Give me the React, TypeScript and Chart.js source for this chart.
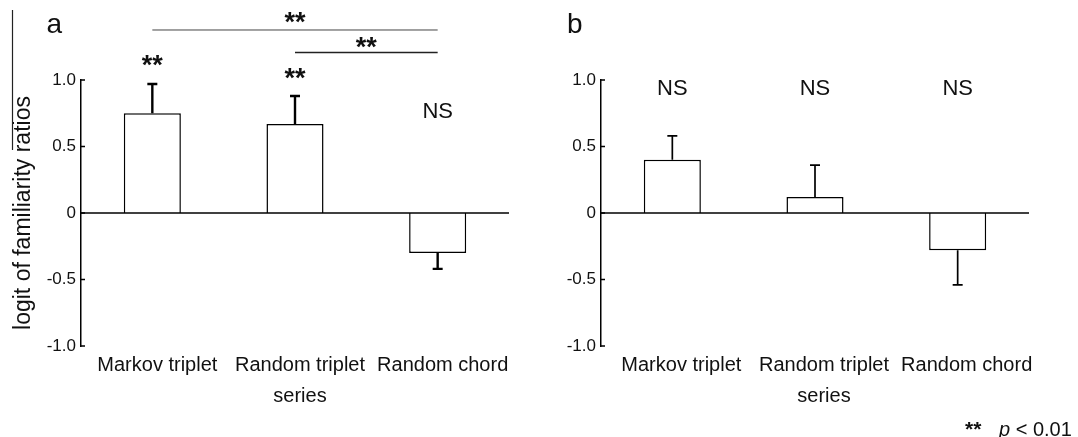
import React, { useEffect, useRef } from 'react';
import { Chart, registerables } from 'chart.js';

Chart.register(...registerables);

const FONT = '"Liberation Sans", Arial, Helvetica, sans-serif';
Chart.defaults.font.family = FONT;

// ---- data ----
const categories = [['Markov triplet'], ['Random triplet', 'series'], ['Random chord']];
const meansA = [0.75, 0.67, -0.30];
const errorsA = [0.22, 0.21, 0.12];
const meansB = [0.40, 0.12, -0.28];
const errorsB = [0.18, 0.24, 0.26];
const yTickValues = [-1, -0.5, 0, 0.5, 1];
const yTickLabels = ['-1.0', '-0.5', '0', '0.5', '1.0'];
const yTitle = 'logit of familiarity ratios';

// significance marks above each bar
const barMarksA = ['**', '**', 'NS'];
const barMarkLevelsA = [1.15, 1.05, 0.77];
const barMarksB = ['NS', 'NS', 'NS'];
const barMarkLevelsB = [0.95, 0.95, 0.95];

// brackets between categories (panel a)
const bracketPairsA = [[0, 2], [1, 2]];
const bracketLevelsA = [1.376, 1.207];
const bracketMarksA = ['**', '**'];
const bracketMarkLevelsA = [1.47, 1.283];

const panelLetters = ['a', 'b'];
const footnoteStars = '**';
const footnoteP = 'p';
const footnoteRest = ' < 0.01';

type PanelCfg = {
  letter: string;
  letterX: number;
  means: number[];
  errors: number[];
  marks: string[];
  markLevels: number[];
  brackets: number[][];
  bracketLevels: number[];
  bracketMarks: string[];
  bracketMarkLevels: number[];
  errWidth: number;
  axisWidth: number;
  padRight: number;
  labelOffset: number;
  showTitle: boolean;
  footnote: boolean;
  artifact: boolean;
};

const STAR_SIZE = 27;
const STAR_INK = 0.5;
const STAR_STYLE = 'bold ';

function drawInk(ctx: CanvasRenderingContext2D, text: string, x: number, cy: number, size: number, inkEm: number, align: CanvasTextAlign = 'center', style = '') {
  ctx.font = `${style}${size}px ${FONT}`;
  ctx.textAlign = align;
  ctx.textBaseline = 'alphabetic';
  ctx.fillText(text, x, cy + inkEm * size);
}

function makePlugin(cfg: PanelCfg) {
  return {
    id: 'panelDecor',
    afterDatasetsDraw(chart: any) {
      const ctx: CanvasRenderingContext2D = chart.ctx;
      const xs = chart.scales.x;
      const ys = chart.scales.y;
      const area = chart.chartArea;
      const meta = chart.getDatasetMeta(0);
      ctx.save();
      ctx.strokeStyle = '#000';
      ctx.fillStyle = '#111';

      // zero line
      const y0 = ys.getPixelForValue(0);
      ctx.lineWidth = 1.5;
      ctx.beginPath();
      ctx.moveTo(area.left, y0);
      ctx.lineTo(area.right, y0);
      ctx.stroke();

      // inward tick marks
      ctx.beginPath();
      ys.ticks.forEach((t: any) => {
        const py = ys.getPixelForValue(t.value);
        ctx.moveTo(area.left, py);
        ctx.lineTo(area.left + 4, py);
      });
      ctx.stroke();

      // one-sided error bars
      ctx.lineWidth = cfg.errWidth;
      cfg.means.forEach((m, i) => {
        const bx = meta.data[i].x;
        const end = m >= 0 ? m + cfg.errors[i] : m - cfg.errors[i];
        const p1 = ys.getPixelForValue(m);
        const p2 = ys.getPixelForValue(end);
        ctx.beginPath();
        ctx.moveTo(bx, p1);
        ctx.lineTo(bx, p2);
        ctx.moveTo(bx - 5, p2);
        ctx.lineTo(bx + 5, p2);
        ctx.stroke();
      });

      // marks above bars
      cfg.marks.forEach((t, i) => {
        const bx = meta.data[i].x;
        const cy = ys.getPixelForValue(cfg.markLevels[i]);
        if (t === 'NS') drawInk(ctx, t, bx, cy, 22, 0.358);
        else drawInk(ctx, t, bx, cy, STAR_SIZE, STAR_INK, 'center', STAR_STYLE);
      });

      // brackets
      cfg.brackets.forEach((pair, i) => {
        const xa = xs.getPixelForValue(pair[0]);
        const xb = xs.getPixelForValue(pair[1]);
        const py = ys.getPixelForValue(cfg.bracketLevels[i]);
        ctx.lineWidth = i === 0 ? 1 : 1.4;
        ctx.strokeStyle = i === 0 ? '#444' : '#222';
        ctx.beginPath();
        ctx.moveTo(xa, py);
        ctx.lineTo(xb, py);
        ctx.stroke();
        const cy = ys.getPixelForValue(cfg.bracketMarkLevels[i]);
        drawInk(ctx, cfg.bracketMarks[i], (xa + xb) / 2, cy, STAR_SIZE, STAR_INK, 'center', STAR_STYLE);
      });

      // panel letter
      ctx.font = `28px ${FONT}`;
      ctx.textAlign = 'left';
      ctx.textBaseline = 'alphabetic';
      ctx.fillText(cfg.letter, cfg.letterX, 33);

      // left border artifact
      if (cfg.artifact) {
        ctx.strokeStyle = '#222';
        ctx.lineWidth = 1.2;
        ctx.beginPath();
        ctx.moveTo(12.5, 10);
        ctx.lineTo(12.5, 150);
        ctx.stroke();
      }

      // footnote
      if (cfg.footnote) {
        drawInk(ctx, footnoteStars, 425, 425, 21, STAR_INK, 'left', STAR_STYLE);
        ctx.font = `italic 20px ${FONT}`;
        ctx.textAlign = 'left';
        ctx.fillText(footnoteP, 459, 435.5);
        const w = ctx.measureText(footnoteP).width;
        ctx.font = `20px ${FONT}`;
        ctx.fillText(footnoteRest, 459 + w, 435.5);
      }
      ctx.restore();
    },
  };
}

function makeChart(canvas: HTMLCanvasElement, cfg: PanelCfg) {
  return new Chart(canvas, {
    type: 'bar',
    data: {
      labels: categories as any,
      datasets: [
        {
          data: cfg.means,
          backgroundColor: '#fff',
          borderColor: '#000',
          borderWidth: 1.5,
          borderSkipped: 'start',
          barPercentage: 0.4,
          categoryPercentage: 1,
        },
      ],
    },
    options: {
      responsive: false,
      animation: false,
      devicePixelRatio: 1,
      layout: { padding: { top: 80, right: cfg.padRight, bottom: 0, left: 0 } },
      plugins: {
        legend: { display: false },
        tooltip: { enabled: false },
        title: { display: false },
      },
      scales: {
        x: {
          type: 'category',
          offset: true,
          grid: { display: false, drawTicks: false },
          border: { display: false },
          ticks: {
            color: '#111',
            font: { size: 20, lineHeight: 1.55 },
            padding: 4,
            maxRotation: 0,
            minRotation: 0,
            autoSkip: false,
            labelOffset: cfg.labelOffset,
          },
          afterFit: (s: any) => {
            s.height = 91;
          },
        },
        y: {
          type: 'linear',
          min: -1,
          max: 1,
          grid: { display: false, drawTicks: false },
          border: { display: true, color: '#000', width: 1.5 },
          afterBuildTicks: (s: any) => {
            s.ticks = yTickValues.map((v) => ({ value: v }));
          },
          ticks: {
            color: '#111',
            font: { size: 17 },
            padding: 5,
            callback: (v: any) => yTickLabels[yTickValues.indexOf(Number(v))],
          },
          title: {
            display: cfg.showTitle,
            text: yTitle,
            color: '#111',
            font: { size: 23 },
            padding: { top: 10, bottom: 0 },
          },
          afterFit: (s: any) => {
            s.width = cfg.axisWidth;
          },
        },
      },
    },
    plugins: [makePlugin(cfg)],
  } as any);
}

export default function App() {
  const refA = useRef<HTMLCanvasElement>(null);
  const refB = useRef<HTMLCanvasElement>(null);

  useEffect(() => {
    const a = makeChart(refA.current!, {
      letter: panelLetters[0],
      letterX: 46.5,
      means: meansA,
      errors: errorsA,
      marks: barMarksA,
      markLevels: barMarkLevelsA,
      brackets: bracketPairsA,
      bracketLevels: bracketLevelsA,
      bracketMarks: bracketMarksA,
      bracketMarkLevels: bracketMarkLevelsA,
      errWidth: 2.4,
      axisWidth: 81,
      padRight: 31,
      labelOffset: 5,
      showTitle: true,
      footnote: false,
      artifact: true,
    });
    const b = makeChart(refB.current!, {
      letter: panelLetters[1],
      letterX: 27,
      means: meansB,
      errors: errorsB,
      marks: barMarksB,
      markLevels: barMarkLevelsB,
      brackets: [],
      bracketLevels: [],
      bracketMarks: [],
      bracketMarkLevels: [],
      errWidth: 1.7,
      axisWidth: 61,
      padRight: 49,
      labelOffset: 9,
      showTitle: false,
      footnote: true,
      artifact: false,
    });
    return () => {
      a.destroy();
      b.destroy();
    };
  }, []);

  return (
    <div style={{ position: 'absolute', left: 0, top: 0, width: 1078, height: 437, background: '#fff', overflow: 'hidden' }}>
      <canvas ref={refA} width={540} height={437} style={{ position: 'absolute', left: 0, top: 0, width: 540, height: 437 }} />
      <canvas ref={refB} width={538} height={437} style={{ position: 'absolute', left: 540, top: 0, width: 538, height: 437 }} />
    </div>
  );
}
